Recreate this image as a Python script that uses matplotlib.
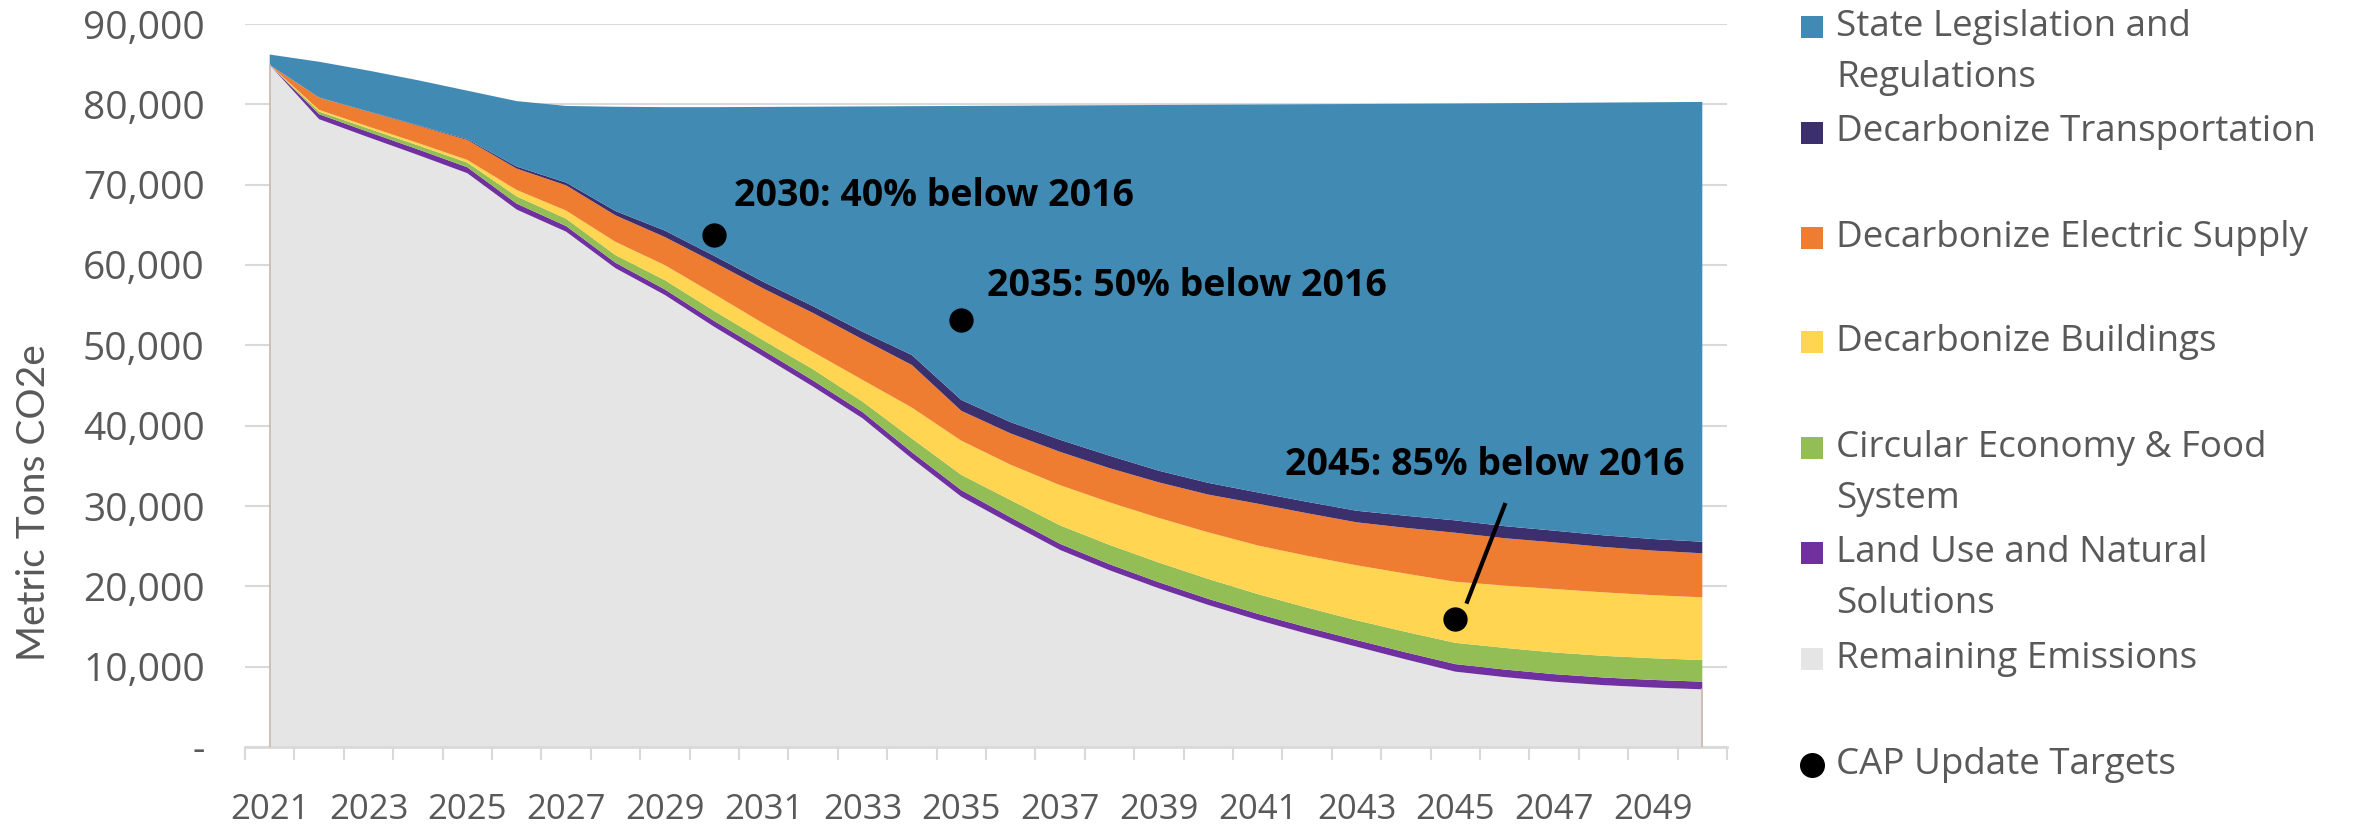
import matplotlib
matplotlib.use("Agg")
import matplotlib.pyplot as plt
from matplotlib.patches import Rectangle
from matplotlib.lines import Line2D
import numpy as np

plt.rcParams['font.family'] = ['Open Sans', 'DejaVu Sans']

# ---------------- data ----------------
years = list(range(2021, 2051))
remaining = [84900, 78150, 75900, 73700, 71430, 66900, 64150, 59600, 56270, 52300,
             48590, 44860, 40920, 35900, 31160, 27800, 24530, 22000, 19750, 17680,
             15810, 14100, 12490, 10900, 9380, 8700, 8130, 7700, 7400, 7180]
land_use = [0, 620, 660, 700, 740, 740, 700, 680, 690, 720,
            760, 760, 780, 800, 820, 780, 760, 760, 760, 760,
            780, 800, 830, 880, 940, 940, 940, 950, 950, 950]
circular = [0, 330, 420, 500, 580, 900, 920, 950, 1150, 1250,
            1250, 1400, 1300, 1700, 1900, 2150, 2300, 2400, 2450, 2480,
            2450, 2450, 2450, 2550, 2650, 2700, 2700, 2700, 2700, 2700]
buildings = [0, 210, 250, 290, 330, 800, 1000, 1650, 1870, 2100,
             2100, 2150, 2700, 3850, 4250, 4400, 5000, 5300, 5550, 5800,
             6050, 6450, 6850, 7250, 7600, 7750, 7900, 7900, 7850, 7800]
electric = [0, 1530, 1850, 2150, 2490, 2660, 3150, 3300, 3500, 3950,
            4350, 4850, 5050, 5300, 3720, 3900, 4150, 4250, 4430, 4700,
            5200, 5300, 5350, 5700, 6100, 5900, 5800, 5650, 5550, 5480]
transport = [0, 0, 30, 60, 100, 250, 340, 540, 800, 820,
             830, 850, 950, 1240, 1350, 1400, 1500, 1550, 1450, 1460,
             1400, 1420, 1440, 1500, 1540, 1500, 1460, 1450, 1440, 1440]
state_leg = [1300, 4460, 5090, 5600, 6030, 8150, 9540, 12980, 15370, 18510,
             21800, 24840, 28040, 30980, 36600, 39400, 41620, 43630, 45530, 47070,
             48290, 49490, 50630, 51290, 51890, 52650, 53250, 53870, 54370, 54750]

target_years = [2030, 2035, 2045]
target_values = [63720, 53100, 15930]
target_labels = ["2030: 40% below 2016", "2035: 50% below 2016", "2045: 85% below 2016"]

series_names = ["Remaining Emissions", "Land Use and Natural\nSolutions",
                "Circular Economy & Food\nSystem", "Decarbonize Buildings",
                "Decarbonize Electric Supply", "Decarbonize Transportation",
                "State Legislation and\nRegulations"]
series_colors = ["#E5E5E5", "#7030A0", "#93BE56", "#FFD551", "#EE7D31", "#3B2F6E", "#418AB3"]
legend_title_targets = "CAP Update Targets"

y_ticks = list(range(0, 90001, 10000))

# ---------------- figure ----------------
W, H = 2361, 827
fig = plt.figure(figsize=(W / 100, H / 100), dpi=100)
ax = fig.add_axes([245 / W, 80 / H, 1482 / W, 723 / H])

x = np.arange(len(years))
ax.stackplot(x, remaining, land_use, circular, buildings, electric, transport, state_leg,
             colors=series_colors, linewidth=0, zorder=2)
# thin edge of the remaining-emissions area
ax.plot([x[0], x[0]], [0, remaining[0]], color="#C9B8AC", lw=1.2, zorder=3)
ax.plot([x[-1], x[-1]], [0, remaining[-1]], color="#C9B8AC", lw=1.2, zorder=3)

# targets
tx = [years.index(y) for y in target_years]
ax.plot(tx, target_values, "o", color="black", markersize=16.5, linestyle="none", zorder=6)

ann_style = dict(fontsize=27, fontweight="bold", color="black", ha="left", va="center", zorder=7)
ax.text(tx[0] + 0.4, target_values[0] + 4900, target_labels[0], **ann_style)
ax.text(tx[1] + 0.53, target_values[1] + 4300, target_labels[1], **ann_style)
ax.text(tx[2] - 3.45, target_values[2] + 19200, target_labels[2], **ann_style)
ax.plot([tx[2] + 0.24, tx[2] + 1.0], [target_values[2] + 2160, target_values[2] + 14200],
        color="black", lw=3, zorder=6)

# axes styling
ax.set_xlim(-0.5, len(years) - 0.5)
ax.set_ylim(0, 90000)
ax.set_yticks(y_ticks)
ax.set_yticklabels(["-" if v == 0 else f"{v:,}" for v in y_ticks])
ax.yaxis.grid(True, color="#D9D9D9", linewidth=1.5, zorder=0)
ax.set_axisbelow(True)
ax.tick_params(axis="y", length=0, pad=29, labelsize=28, labelcolor="#595959")

ax.set_xticks(x[::2])
ax.set_xticklabels([str(y) for y in years[::2]])
ax.set_xticks(np.arange(-0.5, len(years), 1.0), minor=True)
ax.tick_params(axis="x", which="major", length=0, pad=33, labelsize=25, labelcolor="#595959")
ax.tick_params(axis="x", which="minor", length=9, width=1.5, color="#D9D9D9")

for s in ["top", "right", "left"]:
    ax.spines[s].set_visible(False)
ax.spines["bottom"].set_color("#D9D9D9")
ax.spines["bottom"].set_linewidth(2)

fig.text(34 / W, 1 - 503 / H, "Metric Tons CO2e", rotation=90, fontsize=28,
         color="#595959", ha="center", va="center", family=["Lato", "DejaVu Sans"])

# ---------------- legend (manual, Excel style) ----------------
legend_order = [6, 5, 4, 3, 2, 1, 0]
legend_y = [27, 132.5, 238, 342, 448, 553, 659]
for idx, yc in zip(legend_order, legend_y):
    fig.add_artist(Rectangle((1801 / W, 1 - (yc + 11) / H), 22 / W, 22 / H,
                             transform=fig.transFigure, color=series_colors[idx], lw=0))
    for k, line in enumerate(series_names[idx].split("\n")):
        fig.text(1836 / W, 1 - (yc + 51 * k) / H, line, fontsize=26.5, color="#595959",
                 ha="left", va="center")
fig.add_artist(Line2D([1812 / W], [1 - 765 / H], marker="o", markersize=17, color="black",
                      linestyle="none", transform=fig.transFigure))
fig.text(1836 / W, 1 - 765 / H, legend_title_targets, fontsize=26.5, color="#595959",
         ha="left", va="center")

fig.savefig("out.png", dpi=100)
